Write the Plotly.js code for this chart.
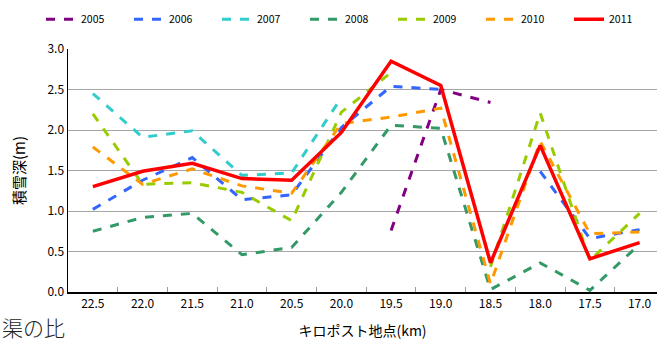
<!DOCTYPE html>
<html>
<head>
<meta charset="utf-8">
<script src="https://cdn.plot.ly/plotly-3.0.1.min.js"></script>
<style>html,body{margin:0;padding:0;background:#fff;}#chart{width:657px;height:344px;}</style>
</head>
<body>
<div id="chart"></div>
<script>
const categories = ["22.5","22.0","21.5","21.0","20.5","20.0","19.5","19.0","18.5","18.0","17.5","17.0"];
const y2005 = [null,null,null,null,null,null,0.76,2.50,2.34,null,null,null];
const y2006 = [1.02,1.38,1.66,1.14,1.20,2.03,2.54,2.50,null,1.49,0.66,0.77];
const y2007 = [2.45,1.91,1.99,1.44,1.47,2.40,null,null,null,null,null,null];
const y2008 = [0.75,0.92,0.97,0.46,0.55,1.23,2.06,2.02,0.03,0.36,0.02,0.59];
const y2009 = [2.20,1.33,1.35,1.23,0.88,2.22,2.71,null,0.31,2.21,0.39,0.97];
const y2010 = [1.79,1.33,1.52,1.31,1.22,2.08,2.16,2.27,0.10,1.86,0.72,0.74];
const y2011 = [1.30,1.49,1.59,1.40,1.38,1.97,2.85,2.55,0.36,1.81,0.41,0.61];
const seriesNames = ["2005","2006","2007","2008","2009","2010","2011"];
const seriesData = [y2005,y2006,y2007,y2008,y2009,y2010,y2011];
const colors = ["#800080","#3366ff","#33cccc","#339966","#99cc00","#ff9900","#ff0000"];

const font = "'Noto Sans CJK JP', 'Noto Sans', sans-serif";
const traces = seriesData.map((d, i) => ({
  type: "scatter", mode: "lines", name: seriesNames[i],
  x: categories, y: d,
  connectgaps: false,
  line: {color: colors[i], width: i === 6 ? 3.5 : 3, dash: i === 6 ? "solid" : "dash"},
  hoverinfo: "skip"
}));

const layout = {
  width: 657, height: 344,
  margin: {l: 68, r: 0, t: 49, b: 52},
  paper_bgcolor: "#fff", plot_bgcolor: "#fff",
  font: {family: font, size: 12, color: "#000"},
  showlegend: true,
  legend: {
    orientation: "h", xref: "paper", yref: "paper",
    x: -0.039, y: 1.182, xanchor: "left", yanchor: "top",
    font: {family: font, size: 10.5, color: "#000"},
    entrywidth: 43, entrywidthmode: "pixels", itemwidth: 30,
    tracegroupgap: 0
  },
  xaxis: {
    type: "category", categoryorder: "array", categoryarray: categories,
    range: [-0.5, 11.35],
    showline: true, linecolor: "#000", linewidth: 1.5,
    ticks: "inside", tickson: "boundaries", ticklen: 5, tickcolor: "#999",
    showgrid: false, zeroline: false,
    tickfont: {family: font, size: 12},
    title: {text: "キロポスト地点(km)", font: {family: font, size: 14}, standoff: 16}
  },
  yaxis: {
    range: [0, 3], dtick: 0.5, tickformat: ".1f",
    showline: true, linecolor: "#000", linewidth: 1.5,
    showgrid: true, gridcolor: "#a6a6a6", gridwidth: 1,
    zeroline: false, ticks: "",
    tickfont: {family: font, size: 12},
    title: {text: "積雪深(m)", font: {family: font, size: 15}, standoff: 18}
  },
  annotations: [{
    text: "渠の比", xref: "paper", yref: "paper",
    x: -0.1155, y: -0.214, xanchor: "left", yanchor: "bottom",
    showarrow: false,
    font: {family: "'Noto Sans CJK JP', serif", size: 21, color: "#222", weight: 300}
  }]
};

Plotly.newPlot("chart", traces, layout, {staticPlot: true, displayModeBar: false});
</script>
</body>
</html>
